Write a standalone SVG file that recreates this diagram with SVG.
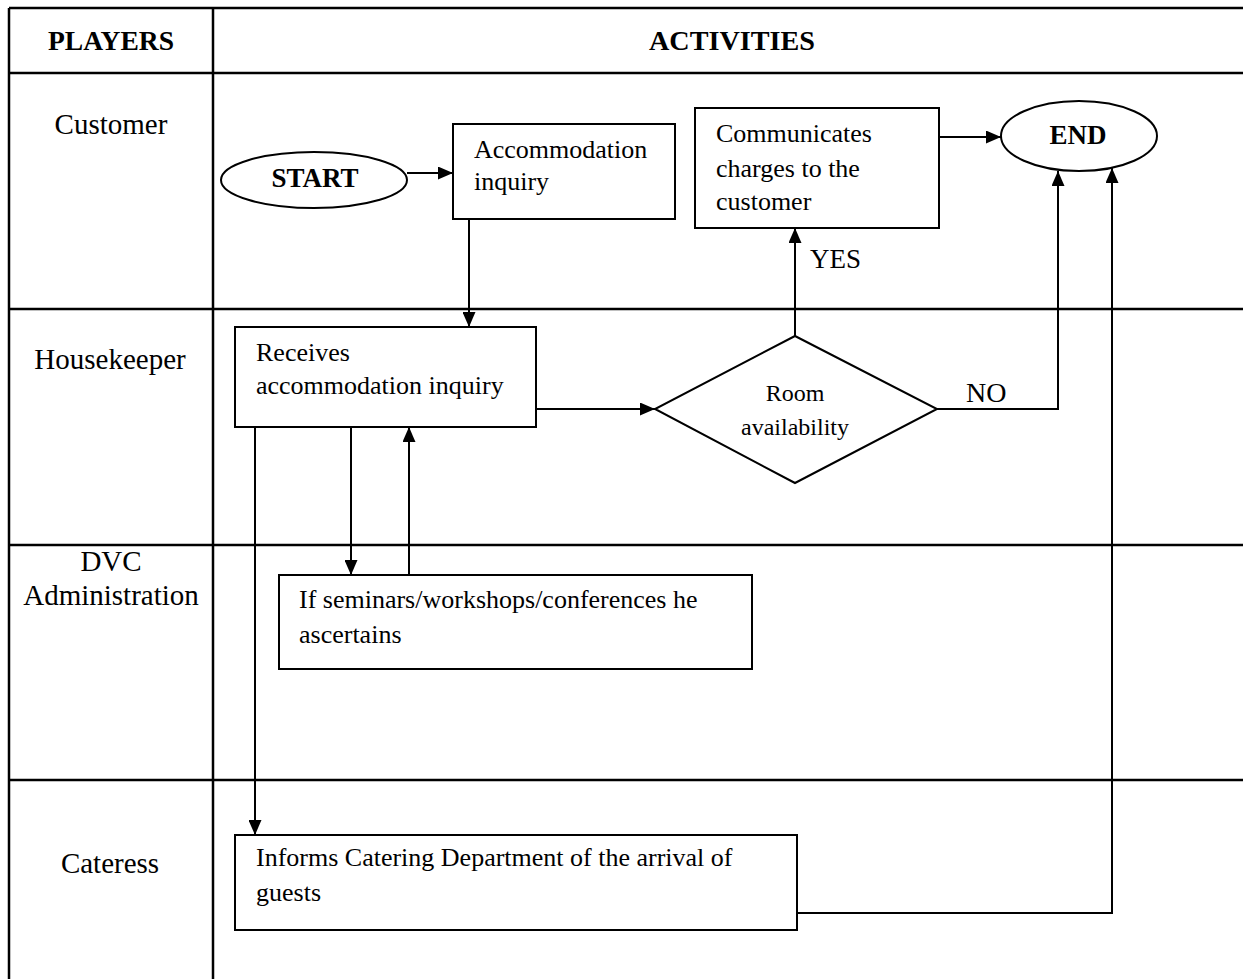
<svg xmlns="http://www.w3.org/2000/svg" width="1243" height="979" viewBox="0 0 1243 979">
<defs>
<marker id="arr" markerUnits="userSpaceOnUse" markerWidth="15" markerHeight="13" refX="15" refY="6.5" orient="auto">
<path d="M0,0 L15,6.5 L0,13 z" fill="#000"/>
</marker>
<style>
.grid{stroke:#000;stroke-width:2.5;fill:none}
.box{stroke:#000;stroke-width:2;fill:#fff}
.con{stroke:#000;stroke-width:2;fill:none}
.t{font-family:"Liberation Serif",serif;font-size:26px;fill:#000}
.lane{font-family:"Liberation Serif",serif;font-size:29px;fill:#000;text-anchor:middle}
.hd{font-family:"Liberation Serif",serif;font-size:28px;font-weight:bold;fill:#000;text-anchor:middle}
.bd{font-family:"Liberation Serif",serif;font-size:27px;font-weight:bold;fill:#000;text-anchor:middle}
.sm{font-family:"Liberation Serif",serif;font-size:24px;fill:#000;text-anchor:middle}
</style>
</defs>
<rect width="1243" height="979" fill="#fff"/>
<g id="table">
<line class="grid" x1="9" y1="8" x2="1243" y2="8"/>
<line class="grid" x1="9" y1="73" x2="1243" y2="73"/>
<line class="grid" x1="9" y1="309" x2="1243" y2="309"/>
<line class="grid" x1="9" y1="545" x2="1243" y2="545"/>
<line class="grid" x1="9" y1="780" x2="1243" y2="780"/>
<line class="grid" x1="9" y1="8" x2="9" y2="979"/>
<line class="grid" x1="213" y1="8" x2="213" y2="979"/>
<text class="hd" x="111" y="50" textLength="126" lengthAdjust="spacingAndGlyphs">PLAYERS</text>
<text class="hd" x="732" y="50" textLength="166" lengthAdjust="spacingAndGlyphs">ACTIVITIES</text>
<text class="lane" x="111" y="134">Customer</text>
<text class="lane" x="110" y="369">Housekeeper</text>
<text class="lane" x="111" y="571">DVC</text>
<text class="lane" x="111" y="605">Administration</text>
<text class="lane" x="110" y="873">Cateress</text>
</g>
<g id="connectors">
<path class="con" d="M407,173 H453" marker-end="url(#arr)"/>
<path class="con" d="M469,219 V327" marker-end="url(#arr)"/>
<path class="con" d="M536,409 H655" marker-end="url(#arr)"/>
<path class="con" d="M795,336 V228" marker-end="url(#arr)"/>
<path class="con" d="M939,137 H1001" marker-end="url(#arr)"/>
<path class="con" d="M937,409 H1058 V171" marker-end="url(#arr)"/>
<path class="con" d="M351,427 V575" marker-end="url(#arr)"/>
<path class="con" d="M409,575 V427" marker-end="url(#arr)"/>
<path class="con" d="M255,427 V835" marker-end="url(#arr)"/>
<path class="con" d="M797,913 H1112 V168" marker-end="url(#arr)"/>
<text class="t" x="810" y="268" style="font-size:27px">YES</text>
<text class="t" x="966" y="402" style="font-size:28px">NO</text>
</g>
<g id="start">
<ellipse class="box" cx="314" cy="180" rx="93" ry="28"/>
<text class="bd" x="315" y="187">START</text>
</g>
<g id="accommodation-inquiry">
<rect class="box" x="453" y="124" width="222" height="95"/>
<text class="t" x="474" y="158">Accommodation</text>
<text class="t" x="474" y="190">inquiry</text>
</g>
<g id="communicates">
<rect class="box" x="695" y="108" width="244" height="120"/>
<text class="t" x="716" y="142">Communicates</text>
<text class="t" x="716" y="177">charges to the</text>
<text class="t" x="716" y="210">customer</text>
</g>
<g id="end">
<ellipse class="box" cx="1079" cy="136" rx="78" ry="35"/>
<text class="bd" x="1078" y="144">END</text>
</g>
<g id="receives">
<rect class="box" x="235" y="327" width="301" height="100"/>
<text class="t" x="256" y="361">Receives</text>
<text class="t" x="256" y="394">accommodation inquiry</text>
</g>
<g id="room-availability">
<polygon class="box" points="795,336 937,409 795,483 655,409"/>
<text class="sm" x="795" y="401">Room</text>
<text class="sm" x="795" y="435">availability</text>
</g>
<g id="dvc-ascertains">
<rect class="box" x="279" y="575" width="473" height="94"/>
<text class="t" x="299" y="608">If seminars/workshops/conferences he</text>
<text class="t" x="299" y="643">ascertains</text>
</g>
<g id="informs-catering">
<rect class="box" x="235" y="835" width="562" height="95"/>
<text class="t" x="256" y="866">Informs Catering Department of the arrival of</text>
<text class="t" x="256" y="901">guests</text>
</g>
</svg>
